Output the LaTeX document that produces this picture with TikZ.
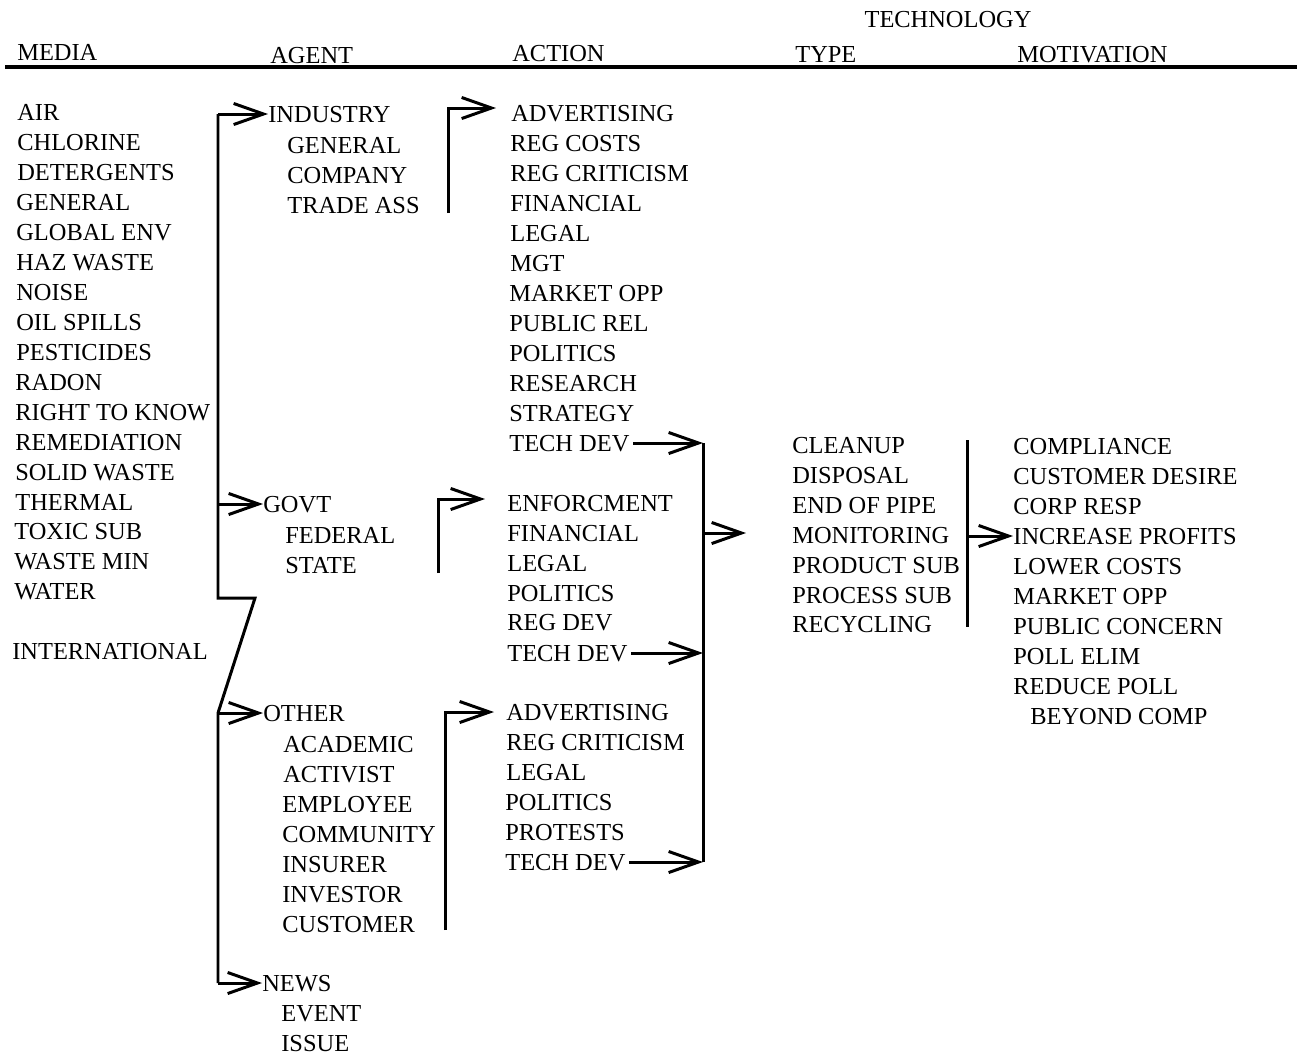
\documentclass[tikz,border=0pt]{standalone}
\usepackage{fontspec}
\setmainfont{Liberation Serif}
\usetikzlibrary{arrows.meta}
\tikzset{
	rule/.style={black, line width=1.7pt},
	arr/.style={rule, -{Straight Barb[length=17pt, width=12pt, line width=1.7pt]}}
}

\begin{document}
\begin{tikzpicture}[x=0.02cm,y=-0.02cm]
		\fontsize{13.9}{16}\selectfont
		\tikzstyle{every node}+=[inner sep=0pt, anchor=west, text height=9.2pt, text depth=0pt]
		\useasboundingbox (0,0) rectangle (1297,1056);
		% headings
		\node (htech) [anchor=center] at (948,19) {TECHNOLOGY};
		\node (hmedia) at (17,52) {MEDIA};
		\node (hagent) at (270,55) {AGENT};
		\node (haction) at (512,53) {ACTION};
		\node (htype) at (795,54) {TYPE};
		\node (hmotiv) at (1017,54) {MOTIVATION};
		\draw [black, line width=1.8pt] (5,67) -- (1297,67);
		% media
		\node (m1) at (17,112) {AIR};
		\node (m2) at (17,142) {CHLORINE};
		\node (m3) at (17,172) {DETERGENTS};
		\node (m4) at (16,202) {GENERAL};
		\node (m5) at (16,232) {GLOBAL ENV};
		\node (m6) at (16,262) {HAZ WASTE};
		\node (m7) at (16,292) {NOISE};
		\node (m8) at (16,322) {OIL SPILLS};
		\node (m9) at (16,352) {PESTICIDES};
		\node (m10) at (15,382) {RADON};
		\node (m11) at (15,412) {RIGHT TO KNOW};
		\node (m12) at (15,442) {REMEDIATION};
		\node (m13) at (15,472) {SOLID WASTE};
		\node (m14) at (15,502) {THERMAL};
		\node (m15) at (14,531) {TOXIC SUB};
		\node (m16) at (14,561) {WASTE MIN};
		\node (m17) at (14,591) {WATER};
		\node (m18) at (12,651) {INTERNATIONAL};
		% agent
		\node (industry) at (268,114) {INDUSTRY};
		\node (ag1) at (287,145) {GENERAL};
		\node (ag2) at (287,175) {COMPANY};
		\node (ag3) at (287,205) {TRADE ASS};
		\node (govt) at (263,504) {GOVT};
		\node (ag4) at (285,535) {FEDERAL};
		\node (ag5) at (285,565) {STATE};
		\node (other) at (263,713) {OTHER};
		\node (ag6) at (283,744) {ACADEMIC};
		\node (ag7) at (283,774) {ACTIVIST};
		\node (ag8) at (282,804) {EMPLOYEE};
		\node (ag9) at (282,834) {COMMUNITY};
		\node (ag10) at (282,864) {INSURER};
		\node (ag11) at (282,894) {INVESTOR};
		\node (ag12) at (282,924) {CUSTOMER};
		\node (news) at (262,983) {NEWS};
		\node (ag13) at (281,1013) {EVENT};
		\node (ag14) at (281,1043) {ISSUE};
		% action
		\node (ac1) at (511,113) {ADVERTISING};
		\node (ac2) at (510,143) {REG COSTS};
		\node (ac3) at (510,173) {REG CRITICISM};
		\node (ac4) at (510,203) {FINANCIAL};
		\node (ac5) at (510,233) {LEGAL};
		\node (ac6) at (510,263) {MGT};
		\node (ac7) at (509,293) {MARKET OPP};
		\node (ac8) at (509,323) {PUBLIC REL};
		\node (ac9) at (509,353) {POLITICS};
		\node (ac10) at (509,383) {RESEARCH};
		\node (ac11) at (509,413) {STRATEGY};
		\node (td1) at (509,443) {TECH DEV};
		\node (ac12) at (507,503) {ENFORCMENT};
		\node (ac13) at (507,533) {FINANCIAL};
		\node (ac14) at (507,563) {LEGAL};
		\node (ac15) at (507,593) {POLITICS};
		\node (ac16) at (507,622) {REG DEV};
		\node (td2) at (507,653) {TECH DEV};
		\node (ac17) at (506,712) {ADVERTISING};
		\node (ac18) at (506,742) {REG CRITICISM};
		\node (ac19) at (506,772) {LEGAL};
		\node (ac20) at (505,802) {POLITICS};
		\node (ac21) at (505,832) {PROTESTS};
		\node (td3) at (505,862) {TECH DEV};
		% type
		\node (ty1) at (792,445) {CLEANUP};
		\node (ty2) at (792,475) {DISPOSAL};
		\node (ty3) at (792,505) {END OF PIPE};
		\node (ty4) at (792,535) {MONITORING};
		\node (ty5) at (792,565) {PRODUCT SUB};
		\node (ty6) at (792,595) {PROCESS SUB};
		\node (ty7) at (792,624) {RECYCLING};
		% motivation
		\node (mo1) at (1013,446) {COMPLIANCE};
		\node (mo2) at (1013,476) {CUSTOMER DESIRE};
		\node (mo3) at (1013,506) {CORP RESP};
		\node (incr) at (1013,536) {INCREASE PROFITS};
		\node (mo4) at (1013,566) {LOWER COSTS};
		\node (mo5) at (1013,596) {MARKET OPP};
		\node (mo6) at (1013,626) {PUBLIC CONCERN};
		\node (mo7) at (1013,656) {POLL ELIM};
		\node (mo8) at (1013,686) {REDUCE POLL};
		\node (mo9) at (1030,716) {BEYOND COMP};
		% media -> agent
		\coordinate (a0) at (218,114);
		\coordinate (a1) at (218,598);
		\coordinate (a2) at (255,598);
		\coordinate (a3) at (218,713);
		\coordinate (a4) at (218,983);
		\coordinate (ag) at (218,504);
		\draw [rule] (a0) -- (a1) -- (a2) -- (a3) -- (a4);
		\draw [arr] (a0) -- (industry.west);
		\draw [arr] (ag) -- (govt.west);
		\draw [arr] (a3) -- (other.west);
		\draw [arr] (a4) -- (news.west);
		% agent -> action
		\coordinate (ib1) at (448,213);
		\coordinate (ib2) at (448,108);
		\coordinate (ib3) at (496,108);
		\draw [arr] (ib1) -- (ib2) -- (ib3);
		\coordinate (gb1) at (438,573);
		\coordinate (gb2) at (438,499);
		\coordinate (gb3) at (485,499);
		\draw [arr] (gb1) -- (gb2) -- (gb3);
		\coordinate (ob1) at (445,930);
		\coordinate (ob2) at (445,712);
		\coordinate (ob3) at (494,712);
		\draw [arr] (ob1) -- (ob2) -- (ob3);
		% action -> type
		\coordinate (tb1) at (703,443);
		\coordinate (tb2) at (703,653);
		\coordinate (tb3) at (703,862);
		\coordinate (tbo) at (703,533);
		\coordinate (tbt) at (746,533);
		\draw [rule] (tb1) -- (tb3);
		\draw [arr, shorten <=2pt] (td1.east) -- (tb1);
		\draw [arr, shorten <=2pt] (td2.east) -- (tb2);
		\draw [arr, shorten <=2pt] (td3.east) -- (tb3);
		\draw [arr] (tbo) -- (tbt);
		% type -> motivation
		\coordinate (yb1) at (967,440);
		\coordinate (yb2) at (967,627);
		\coordinate (yb) at (967,536);
		\draw [rule] (yb1) -- (yb2);
		\draw [arr] (yb) -- (incr.west);
	\end{tikzpicture}
\end{document}
